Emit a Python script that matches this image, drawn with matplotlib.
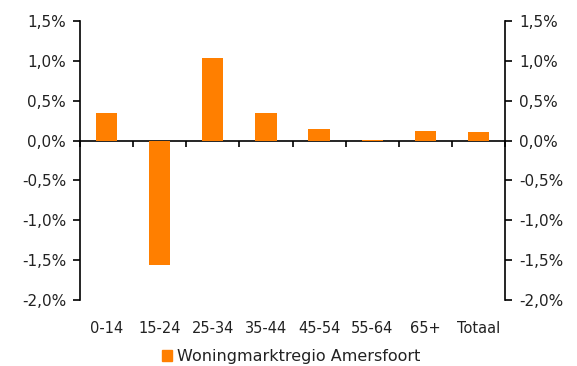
import matplotlib.pyplot as plt
import matplotlib.ticker as mticker
from matplotlib.patches import Patch
import numpy as np

# Bevolkingsgroei per leeftijdsgroep, in procenten
groepen = ['0-14', '15-24', '25-34', '35-44', '45-54', '55-64', '65+', 'Totaal']
groei = [0.35, -1.56, 1.04, 0.35, 0.14, 0.005, 0.12, 0.11]
regio = 'Woningmarktregio Amersfoort'
oranje = '#FF7F00'

fig = plt.figure(figsize=(5.77, 3.66), dpi=100)
ax = fig.add_axes([80 / 577, 1 - 300 / 366, 425 / 577, 279 / 366])

x = np.arange(len(groepen))
ax.bar(x, groei, width=0.4, color=oranje, zorder=2)

ax.set_xlim(-0.5, len(groepen) - 0.5)
ax.set_ylim(-2.0, 1.5)
ax.yaxis.set_major_locator(mticker.MultipleLocator(0.5))
ax.yaxis.set_major_formatter(
    mticker.FuncFormatter(lambda v, p: f'{v:.1f}%'.replace('.', ',')))

for s in ['top', 'bottom']:
    ax.spines[s].set_visible(False)
for s in ['left', 'right']:
    ax.spines[s].set_linewidth(1.2)

ax.tick_params(axis='y', which='major', left=True, right=True,
               labelleft=True, labelright=True, direction='out',
               length=5, width=1.2, labelsize=11, pad=5, labelcolor='#222222')
ax.set_xticks(x)
ax.set_xticklabels(groepen)
ax.tick_params(axis='x', length=0, labelsize=10.5, pad=15, labelcolor='#222222')

# nullijn met streepjes tussen de groepen
nul = ax.secondary_xaxis(0, transform=ax.transData)
nul.spines['bottom'].set_linewidth(1.2)
nul.set_xticks(np.arange(len(groepen) + 1) - 0.5)
nul.tick_params(length=4, width=1.2, labelbottom=False)

leg = fig.legend(handles=[Patch(color=oranje, label=regio)], loc='lower center',
                 bbox_to_anchor=(0.505, -0.035), frameon=False, fontsize=11.5,
                 handlelength=0.65, handleheight=0.65, handletextpad=0.3)
for t in leg.get_texts():
    t.set_color('#222222')

fig.savefig('out.png', dpi=100)
